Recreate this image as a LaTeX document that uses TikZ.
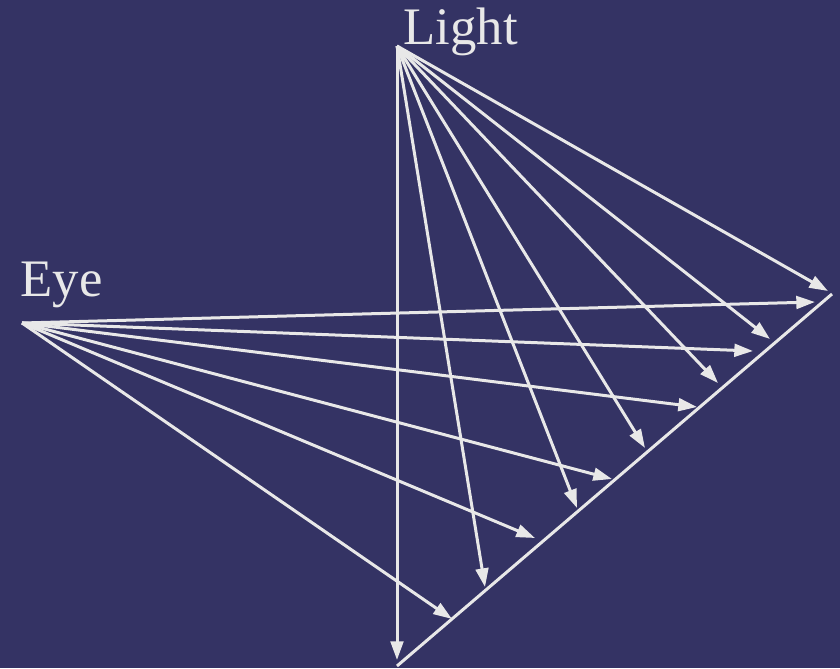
\documentclass[tikz,border=0pt]{standalone}
\usepackage{fontspec}
\setmainfont{Liberation Serif}
\usetikzlibrary{arrows.meta}
\definecolor{bg}{RGB}{52,51,100}
\definecolor{ray}{RGB}{232,232,232}

\begin{document}
\begin{tikzpicture}[
  x=0.03cm, y=-0.03cm,
  line width=0.09cm,
  >={Triangle[length=0.56cm,width=0.38cm]},
  every node/.style={inner sep=0pt, text=ray},
  lab/.style={font=\fontsize{45}{52}\selectfont, anchor=base west},
  beam/.style={draw=ray, ->},
  wall/.style={draw=ray},
]

% ---------------- canvas ----------------
\fill[bg] (0,0) rectangle (840,668);
\useasboundingbox (0,0) rectangle (840,668);

% ---------------- sources ----------------
\node[lab] (light) at (402,44) {Light};
\node[lab] (eye)   at (19,296) {Eye};
\coordinate (src)  at (397,46);
\coordinate (view) at (22,323);

% surface
\coordinate (w0) at (397,666);
\coordinate (w1) at (832,294);
\draw[wall] (w0) -- (w1);

% rays leaving the light
\foreach \n/\x/\y in {1/397/660, 2/485/587, 3/577/508, 4/645/448,
                      5/718/383, 6/770/339, 7/828/291} {
  \coordinate (l\n) at (\x,\y);
  \draw[beam] (src) -- (l\n);
}

% rays leaving the eye
\foreach \n/\x/\y in {1/452/619, 2/535/538, 3/612/479,
                      4/697/407, 5/753/351, 6/815/302} {
  \coordinate (e\n) at (\x,\y);
  \draw[beam] (view) -- (e\n);
}

\end{tikzpicture}
\end{document}
